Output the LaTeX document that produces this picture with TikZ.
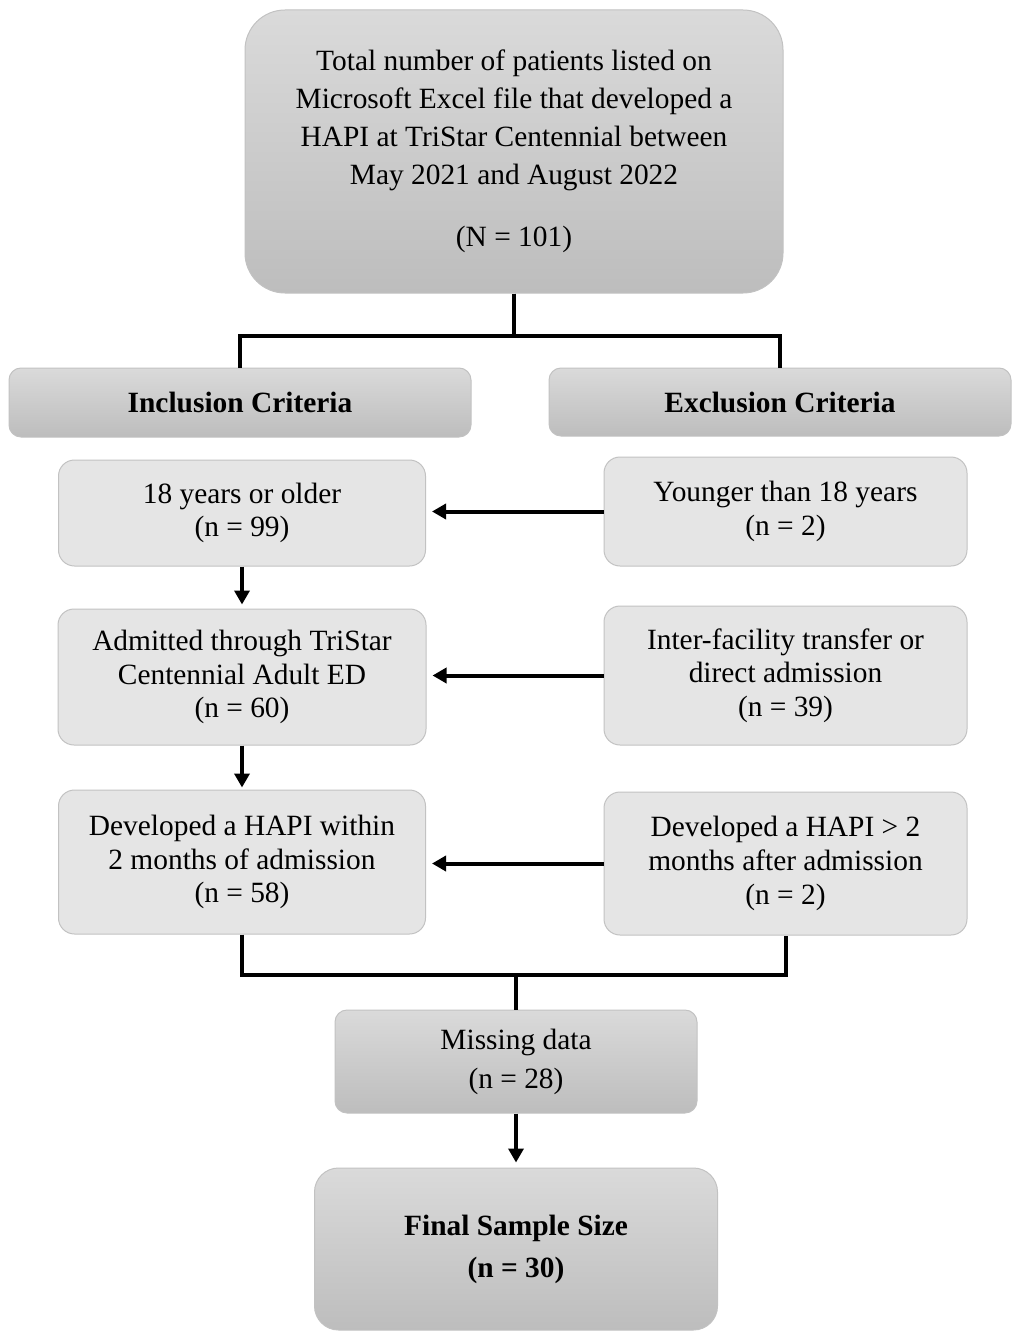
\documentclass[tikz,border=0pt]{standalone}
\usepackage{fontspec}
\setmainfont{Liberation Serif}
\usepackage{xcolor}
\usepackage{tikz}
\usetikzlibrary{positioning, arrows.meta, calc}
\definecolor{shadeTop}{HTML}{DADADA}
\definecolor{shadeBot}{HTML}{BDBDBD}
\definecolor{paleBox}{HTML}{E5E5E5}
\definecolor{edge}{HTML}{C2C2C2}

\begin{document}
\begin{tikzpicture}[x=0.5pt,y=-0.5pt]
      \tikzset{dark/.style={draw=edge,line width=0.5pt,top color=shadeTop,bottom color=shadeBot,rounded corners=6pt,align=center,inner sep=0pt,font=\fontsize{14.7}{19}\selectfont}, pale/.style={draw=edge,line width=0.5pt,fill=paleBox,rounded corners=8pt,align=center,inner sep=0pt,font=\fontsize{14.7}{16.8}\selectfont}, link/.style={line width=2pt,draw=black}, arr/.style={link,-{Triangle[length=7pt,width=7.5pt]}}}
      \useasboundingbox (0,0) rectangle (1013,1332);
      \node[dark,rounded corners=20pt,minimum width=269pt,minimum height=141.5pt] (total) at (514,151.5) {Total number of patients listed on\\Microsoft Excel file that developed a\\HAPI at TriStar Centennial between\\May 2021 and August 2022\\[12pt](N = 101)};
      \node[dark,minimum width=231pt,minimum height=34.5pt,font=\fontsize{14.7}{19}\selectfont\bfseries] (incl) at (240,402.5) {Inclusion Criteria};
      \node[dark,minimum width=231pt,minimum height=34pt,font=\fontsize{14.7}{19}\selectfont\bfseries] (excl) at (780,402) {Exclusion Criteria};
      \node[pale,minimum width=183.5pt,minimum height=53pt] (adult) at (242,513) {18 years or older\\(n = 99)};
      \node[pale,minimum width=181.5pt,minimum height=54.5pt] (minor) at (785.5,511.5) {Younger than 18 years\\(n = 2)};
      \node[pale,minimum width=184pt,minimum height=68pt] (viaed) at (242,677) {Admitted through TriStar\\Centennial Adult ED\\(n = 60)};
      \node[pale,minimum width=181.5pt,minimum height=69.5pt] (transfer) at (785.5,675.5) {Inter-facility transfer or\\direct admission\\(n = 39)};
      \node[pale,minimum width=183.5pt,minimum height=72pt] (early) at (242,862) {Developed a HAPI within\\2 months of admission\\(n = 58)};
      \node[pale,minimum width=181.5pt,minimum height=71.5pt] (late) at (785.5,863.5) {Developed a HAPI > 2\\months after admission\\(n = 2)};
      \node[dark,minimum width=181pt,minimum height=51.5pt,font=\fontsize{14.7}{19.5}\selectfont] (missing) at (516,1061.5) {Missing data\\(n = 28)};
      \node[dark,rounded corners=12pt,minimum width=201.5pt,minimum height=81pt,font=\fontsize{14.7}{21}\selectfont\bfseries] (final) at (516,1249) {Final Sample Size\\(n = 30)};
      \coordinate (merge) at (516,975);
      \draw[link] (total.south) -- ++(0,42) -| (incl.north); \draw[link] (total.south) -- ++(0,42) -| (excl.north);
      \draw[arr,shorten >=3pt] (minor.west) -- (minor.west -| adult.east);
      \draw[arr,shorten >=3pt] (transfer.west) -- (transfer.west -| viaed.east);
      \draw[arr,shorten >=3pt] (late.west) -- (late.west -| early.east);
      \draw[arr,shorten >=2pt] (adult.south) -- (viaed.north); \draw[arr,shorten >=1pt] (viaed.south) -- (early.north);
      \draw[link] (early.south) |- (merge) -| (late.south); \draw[link] (merge) -- (missing.north);
      \draw[arr,shorten >=2.5pt] (missing.south) -- (final.north);
    \end{tikzpicture}
\end{document}
